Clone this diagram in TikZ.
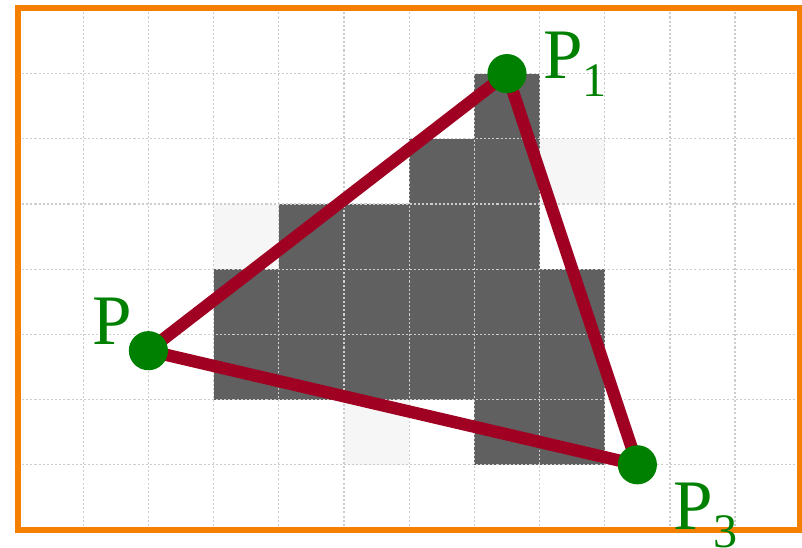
\documentclass[tikz,border=0pt]{standalone}
\usepackage{fontspec}
\setmainfont{Liberation Serif}
\definecolor{cellDark}{RGB}{96,96,96}
\definecolor{cellLight}{RGB}{246,246,246}
\definecolor{gridGray}{RGB}{205,205,205}
\definecolor{frameOrange}{RGB}{245,127,0}
\definecolor{edgeRed}{RGB}{160,0,34}
\definecolor{dotGreen}{RGB}{0,128,0}
\tikzset{
  darkcell/.style={fill=cellDark},
  lightcell/.style={fill=cellLight},
  gridline/.style={draw=gridGray, line width=0.6pt, dash pattern=on 0.9pt off 0.9pt},
  frame/.style={draw=frameOrange, line width=2.6pt},
  edge/.style={draw=edgeRed, line width=5.4pt, line cap=butt},
  vertex/.style={circle, fill=dotGreen, minimum size=0.6cm, inner sep=0pt},
  vlabel/.style={anchor=base west, inner sep=0pt, text=dotGreen}
}
\newcommand{\bigP}{{\fontsize{31}{31}\selectfont P}}
\newcommand{\subdig}[1]{\raisebox{-8.2pt}{\fontsize{21}{21}\selectfont #1}}
\begin{document}
\begin{tikzpicture}
\useasboundingbox (-0.276,-0.276) rectangle (12.025,8.129);
% light cells
\foreach \i/\j in {3/4, 8/5, 5/1} \path[lightcell] (\i,\j) rectangle ++(1,1);
% dark cells
\foreach \i/\j in {7/6, 6/5, 7/5, 4/4, 5/4, 6/4, 7/4,
  3/3, 4/3, 5/3, 6/3, 7/3, 8/3,
  3/2, 4/2, 5/2, 6/2, 7/2, 8/2,
  7/1, 8/1} \path[darkcell] (\i,\j) rectangle ++(1,1);
% grid
\foreach \x in {1,...,11} \draw[gridline] (\x,0) -- (\x,8);
\foreach \y in {1,...,7} \draw[gridline] (0,\y) -- (12,\y);
% frame
\draw[frame] (0,0) rectangle (12,8);
% vertices
\coordinate (c1) at (7.5,7.0);
\coordinate (c2) at (2.0,2.75);
\coordinate (c3) at (9.5,1.0);
\draw[edge] (c1) -- (c3);
\draw[edge] (c3) -- (c2);
\draw[edge] (c2) -- (c1);
\node[vertex] (p1) at (c1) {};
\node[vertex] (p2) at (c2) {};
\node[vertex] (p3) at (c3) {};
% labels
\node[vlabel] (l1) at (8.05,6.93) {\bigP\subdig{1}};
\node[vlabel] (l2) at (1.135,2.84) {\bigP};
\node[vlabel] (l3) at (10.05,0.015) {\bigP\subdig{3}};
\end{tikzpicture}
\end{document}
